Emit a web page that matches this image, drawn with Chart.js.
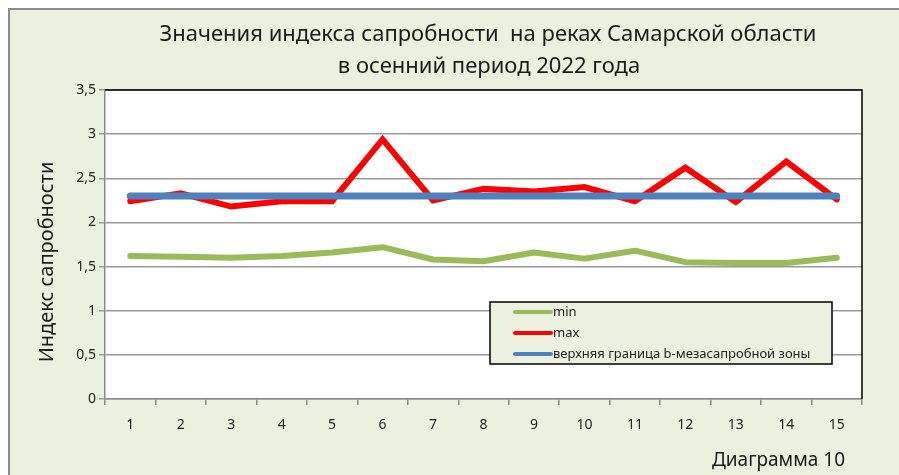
<!DOCTYPE html>
<html>
<head>
<meta charset="utf-8">
<script src="https://cdn.jsdelivr.net/npm/chart.js@4"></script>
<style>
  body { margin: 0; background: #fff; }
  canvas { display: block; }
</style>
</head>
<body>
<canvas id="myChart" width="899" height="475"></canvas>
<script>
// data
let rivers = ["1", "2", "3", "4", "5", "6", "7", "8", "9", "10", "11", "12", "13", "14", "15"];
let minVals = [1.62, 1.61, 1.60, 1.62, 1.66, 1.72, 1.58, 1.56, 1.66, 1.59, 1.68, 1.55, 1.54, 1.54, 1.60];
let maxVals = [2.24, 2.33, 2.18, 2.24, 2.24, 2.94, 2.25, 2.38, 2.35, 2.40, 2.24, 2.62, 2.23, 2.69, 2.26];
let bMeso = [2.3, 2.3, 2.3, 2.3, 2.3, 2.3, 2.3, 2.3, 2.3, 2.3, 2.3, 2.3, 2.3, 2.3, 2.3];
let yTicks = [0, 0.5, 1, 1.5, 2, 2.5, 3, 3.5];

let titleLines = ["Значения индекса сапробности  на реках Самарской области", "в осенний период 2022 года"];
let yTitle = "Индекс сапробности";
let footNote = "Диаграмма 10";

const panelBg = "#EBF1DE";
const fontName = '"Noto Sans", "Open Sans", sans-serif';

// background, title, border of plot, legend box
const decor = {
  id: "decor",
  beforeDraw(chart) {
    let c = chart.ctx;
    c.save();
    c.fillStyle = "#fff";
    c.fillRect(0, 0, chart.width, chart.height);
    c.fillStyle = panelBg;
    c.fillRect(8, 8, chart.width - 8, chart.height - 8);
    c.strokeStyle = "#8c8c8c";
    c.lineWidth = 2;
    c.beginPath();
    c.moveTo(9, chart.height);
    c.lineTo(9, 9);
    c.lineTo(chart.width, 9);
    c.stroke();
    // plot area white
    let a = chart.chartArea;
    c.fillStyle = "#fff";
    c.fillRect(a.left, a.top, a.right - a.left, a.bottom - a.top);
    c.restore();
  },
  beforeDatasetsDraw(chart) {
    let c = chart.ctx;
    let a = chart.chartArea;
    c.save();
    c.strokeStyle = "#000";
    c.lineWidth = 1.5;
    c.beginPath();
    c.moveTo(a.left, a.top);
    c.lineTo(a.right, a.top);
    c.lineTo(a.right, a.bottom);
    c.stroke();
    c.restore();
  },
  afterDraw(chart) {
    let c = chart.ctx;
    c.save();
    c.fillStyle = "#1a1a1a";
    c.textAlign = "center";
    c.textBaseline = "middle";
    c.font = "22px " + fontName;
    c.fillText(titleLines[0], 488, 35);
    c.fillText(titleLines[1], 489, 67);

    c.font = "20px " + fontName;
    c.save();
    c.translate(47, 262);
    c.rotate(-Math.PI / 2);
    c.fillText(yTitle, 0, 0);
    c.restore();

    c.font = "19px " + fontName;
    c.textAlign = "right";
    c.fillText(footNote, 845, 461);

    // legend inside the plot
    let lx = 490, ly = 302, lw = 342, lh = 62;
    c.fillStyle = panelBg;
    c.fillRect(lx, ly, lw, lh);
    c.strokeStyle = "#000";
    c.lineWidth = 1.5;
    c.strokeRect(lx, ly, lw, lh);
    c.font = "13px " + fontName;
    c.textAlign = "left";
    chart.data.datasets.forEach(function (ds, i) {
      let yy = ly + 10 + i * 21;
      c.strokeStyle = ds.borderColor;
      c.lineWidth = 4;
      c.lineCap = "round";
      c.beginPath();
      c.moveTo(515, yy);
      c.lineTo(551, yy);
      c.stroke();
      c.fillStyle = "#222";
      c.fillText(ds.label, 553, yy);
    });
    c.restore();
  },
};

let mychart = document.getElementById("myChart").getContext("2d");
let lineChart = new Chart(mychart, {
  type: "line",
  data: {
    labels: rivers,
    datasets: [
      {
        label: "min",
        data: minVals,
        borderColor: "#9BBB59",
        borderWidth: 6,
        pointRadius: 0,
        tension: 0,
        order: 2,
        borderCapStyle: "round",
        borderJoinStyle: "round",
      },
      {
        label: "max",
        data: maxVals,
        borderColor: "#FF0000",
        borderWidth: 6,
        pointRadius: 0,
        tension: 0,
        order: 1,
        borderCapStyle: "round",
        borderJoinStyle: "miter",
      },
      {
        label: "верхняя граница b-мезасапробной зоны",
        data: bMeso,
        borderColor: "#4F81BD",
        borderWidth: 7,
        pointRadius: 0,
        tension: 0,
        order: 0,
        borderCapStyle: "round",
      },
    ],
  },
  options: {
    responsive: false,
    animation: false,
    devicePixelRatio: 1,
    layout: { padding: { top: 90, right: 37, left: 0, bottom: 0 } },
    plugins: {
      legend: { display: false },
      title: { display: false },
      tooltip: { enabled: false },
    },
    scales: {
      x: {
        offset: true,
        grid: {
          offset: true,
          drawOnChartArea: false,
          drawTicks: true,
          tickLength: 6,
          color: "#8c8c8c",
          lineWidth: 1.5,
        },
        border: { color: "#8c8c8c", width: 1.5 },
        ticks: {
          color: "#222",
          padding: 12,
          maxRotation: 0,
          autoSkip: false,
          font: { family: fontName, size: 14 },
        },
        afterFit(scale) {
          scale.height = 76;
        },
      },
      y: {
        min: 0,
        max: 3.5,
        afterBuildTicks(scale) {
          scale.ticks = yTicks.map((v) => ({ value: v }));
        },
        grid: {
          color: "#9a9a9a",
          lineWidth: 1.5,
          tickLength: 6,
        },
        border: { color: "#8c8c8c", width: 1.5 },
        ticks: {
          color: "#222",
          padding: 3,
          font: { family: fontName, size: 14 },
          callback: function (v) {
            return String(v).replace(".", ",");
          },
        },
        afterFit(scale) {
          scale.width = 105;
        },
      },
    },
  },
  plugins: [decor],
});
</script>
</body>
</html>
